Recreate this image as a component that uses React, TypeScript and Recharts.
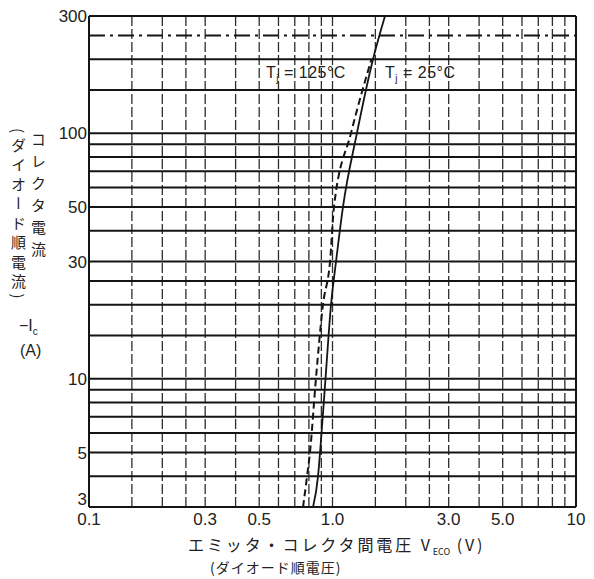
import React from 'react'
import { LineChart, Line, XAxis, YAxis, ReferenceLine } from 'recharts'

// Tj = 25°C (solid) and Tj = 125°C (dashed)
const current25 = [3, 4, 5, 10, 20, 30, 50, 100, 200, 300]
const voltage25 = [0.832, 0.872, 0.889, 0.936, 0.986, 1.034, 1.104, 1.26, 1.467, 1.643]
const current125 = [3, 4, 5, 10, 20, 30, 50, 100, 200]
const voltage125 = [0.757, 0.786, 0.808, 0.855, 0.914, 0.977, 1.014, 1.191, 1.445]

const xTicks = [0.1, 0.3, 0.5, 1, 3, 5, 10]
const xTickLabels = ['0.1', '0.3', '0.5', '1.0', '3.0', '5.0', '10']
const yTicks = [3, 5, 10, 30, 50, 100, 300]

const xGrid = [0.15, 0.2, 0.25, 0.3, 0.4, 0.5, 0.6, 0.7, 0.8, 0.9, 1, 1.5, 2, 2.5, 3, 4, 5, 6, 7, 8, 9]
const yGrid = [4, 5, 6, 7, 8, 9, 10, 15, 20, 25, 30, 40, 50, 60, 70, 80, 90, 100, 150, 200]
const yGridDashDot = [250]

const series25 = current25.map((y, i) => ({ x: voltage25[i], y }))
const series125 = current125.map((y, i) => ({ x: voltage125[i], y }))

const INK = '#151515'
const latin = '"Liberation Sans", Arial, sans-serif'
const jp = '"Noto Sans CJK JP", sans-serif'

// y tick: the bottom "3" sits a little above the axis in the original
const YTick = (props: any) => {
  const { x, y, payload } = props
  const lift = payload.value === 3 ? -8 : 0
  return (
    <text x={x} y={y + lift} dy="0.355em" textAnchor="end" fill="#222" fontSize={17} fontFamily={latin}>
      {payload.value}
    </text>
  )
}

const XTick = (props: any) => {
  const { x, y, payload } = props
  const label = xTickLabels[xTicks.indexOf(payload.value)] ?? String(payload.value)
  return (
    <text x={x} y={y} dy="0.71em" textAnchor="middle" fill="#222" fontSize={17} fontFamily={latin}>
      {label}
    </text>
  )
}

const textBox = (left: number, top: number, extra: React.CSSProperties = {}): React.CSSProperties => ({
  position: 'absolute',
  left,
  top,
  fontFamily: latin,
  fontSize: 16,
  color: '#222',
  whiteSpace: 'nowrap',
  lineHeight: 1,
  ...extra,
})

export default function App() {
  return (
    <div style={{ position: 'absolute', left: 0, top: 0, width: 594, height: 579, background: '#fff' }}>
      <LineChart width={594} height={579} margin={{ top: 16, right: 18, bottom: 42, left: 0 }}>
        <XAxis
          dataKey="x"
          type="number"
          scale="log"
          domain={[0.1, 10]}
          ticks={xTicks}
          allowDataOverflow
          height={30}
          tick={<XTick />}
          tickLine={false}
          tickSize={0}
          tickMargin={6}
          axisLine={{ stroke: INK, strokeWidth: 2 }}
        />
        <YAxis
          dataKey="y"
          type="number"
          scale="log"
          domain={[3, 300]}
          ticks={yTicks}
          allowDataOverflow
          width={89}
          tick={<YTick />}
          tickLine={false}
          tickSize={2}
          tickMargin={0}
          axisLine={{ stroke: INK, strokeWidth: 2 }}
        />
        {xGrid.map((v) => (
          <ReferenceLine key={'vx' + v} x={v} stroke="#2e2e2e" strokeWidth={1.3} strokeDasharray="10 3" />
        ))}
        {yGrid.map((v) => (
          <ReferenceLine key={'hy' + v} y={v} stroke={INK} strokeWidth={2} />
        ))}
        {yGridDashDot.map((v) => (
          <ReferenceLine key={'dd' + v} y={v} stroke={INK} strokeWidth={2} strokeDasharray="16 5 3 5" />
        ))}
        <ReferenceLine y={300} stroke={INK} strokeWidth={2} />
        <ReferenceLine x={10} stroke={INK} strokeWidth={2} />
        <Line
          data={series125}
          dataKey="y"
          type="monotone"
          stroke={INK}
          strokeWidth={2}
          strokeDasharray="7 4"
          dot={false}
          isAnimationActive={false}
        />
        <Line
          data={series25}
          dataKey="y"
          type="monotone"
          stroke={INK}
          strokeWidth={1.8}
          dot={false}
          isAnimationActive={false}
        />
      </LineChart>

      {/* curve labels */}
      <div style={textBox(266, 65, { letterSpacing: 0.5 })}>
        T<sub style={{ fontSize: 10, color: '#222' }}>j</sub> = 125°C
      </div>
      <div style={textBox(385, 65, { letterSpacing: 0.5 })}>
        T<sub style={{ fontSize: 10, color: '#222' }}>j</sub> = 25°C
      </div>

      {/* y axis title */}
      <div style={textBox(11, 128, { writingMode: 'vertical-rl', fontFamily: jp, fontSize: 15, letterSpacing: 4.5, whiteSpace: 'normal' })}>
        (ダイオード順電流)
      </div>
      <div style={textBox(31, 132, { writingMode: 'vertical-rl', fontFamily: jp, fontSize: 15, letterSpacing: 7, whiteSpace: 'normal' })}>
        コレクタ電流
      </div>
      <div style={textBox(19, 318)}>
        −I<sub style={{ fontSize: 10 }}>c</sub>
      </div>
      <div style={textBox(20, 343)}>(A)</div>

      {/* x axis title */}
      <div style={textBox(188, 536, { fontFamily: jp, letterSpacing: 2.9 })}>
        エミッタ・コレクタ間電圧 V<sub style={{ fontSize: 9, letterSpacing: 0 }}>ECO</sub> (V)
      </div>
      <div style={textBox(210, 560, { fontFamily: jp, fontSize: 14, letterSpacing: 1 })}>(ダイオード順電圧)</div>
    </div>
  )
}
